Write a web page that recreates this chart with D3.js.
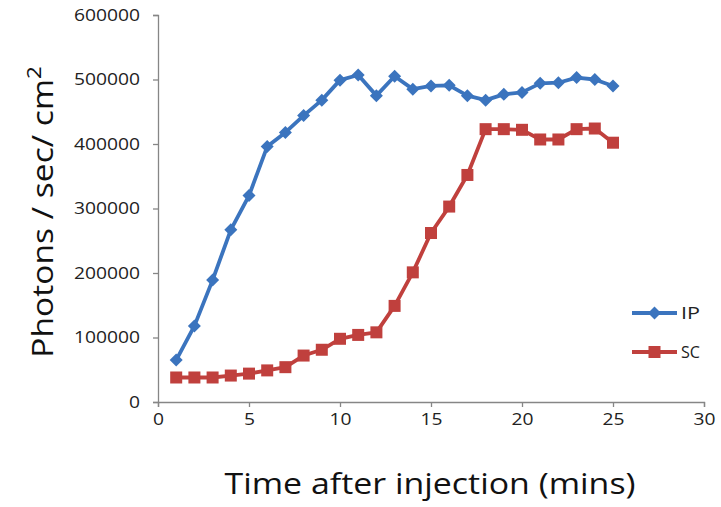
<!DOCTYPE html>
<html>
<head>
<meta charset="utf-8">
<script src="https://cdn.jsdelivr.net/npm/d3@7"></script>
<style>
  html, body { margin: 0; padding: 0; background: #fff; }
  svg { display: block; }
  text { font-family: "Open Sans", "Liberation Sans", sans-serif; }
</style>
</head>
<body>
<svg id="chart" width="721" height="507"></svg>
<script>
// Time points (minutes after injection)
const minutes = [1,2,3,4,5,6,7,8,9,10,11,12,13,14,15,16,17,18,19,20,21,22,23,24,25];

// Intraperitoneal injection signal (photons/sec/cm²)
const ipValues = [65000,118000,189000,267000,320000,396000,418000,444000,468000,499000,
                  507000,475000,505000,485000,490000,491000,475000,468000,477000,480000,
                  494000,495000,503000,500000,490000];

// Subcutaneous injection signal (photons/sec/cm²)
const scValues = [38000,38000,38000,41000,44000,49000,54000,72000,81000,98000,
                  104000,108000,149000,201000,262000,303000,352000,423000,423000,422000,
                  407000,407000,423000,424000,402000];

const xTicks = [0,5,10,15,20,25,30];
const yTicks = [0,100000,200000,300000,400000,500000,600000];

const series = [
  { name: "IP", values: ipValues, color: "#3b74be", marker: "diamond" },
  { name: "SC", values: scValues, color: "#c0403d", marker: "square" }
];

const svg = d3.select("#chart");
const axisColor = "#868686";
const digitWidth = 11;

const x = d3.scaleLinear().domain([0, 30]).range([158, 704]);
const y = d3.scaleLinear().domain([0, 600000]).range([402, 15]);

function styleTickText(sel) {
  sel.attr("fill", "#222")
    .style("font-size", "16.5px")
    .attr("textLength", function () { return this.textContent.length * digitWidth; })
    .attr("lengthAdjust", "spacingAndGlyphs");
}

// Y axis
const yAxis = svg.append("g")
  .attr("transform", `translate(${x(0)},0)`)
  .call(d3.axisLeft(y).tickValues(yTicks).tickSize(5).tickPadding(13).tickFormat(d3.format("d")));
yAxis.select(".domain").attr("stroke", axisColor).attr("stroke-width", 1.3);
yAxis.selectAll(".tick line").attr("stroke", axisColor).attr("stroke-width", 1.3);
yAxis.selectAll(".tick text").call(styleTickText);

// X axis
const xAxis = svg.append("g")
  .attr("transform", `translate(0,${y(0)})`)
  .call(d3.axisBottom(x).tickValues(xTicks).tickSize(5).tickPadding(6));
xAxis.select(".domain").attr("stroke", axisColor).attr("stroke-width", 1.3);
xAxis.selectAll(".tick line").attr("stroke", axisColor).attr("stroke-width", 1.3);
xAxis.selectAll(".tick text").call(styleTickText);

// Axis titles (slightly widened lettering)
svg.append("g")
  .attr("transform", "translate(430,494) scale(1.13,1)")
  .append("text")
  .attr("text-anchor", "middle")
  .attr("fill", "#111")
  .style("font-size", "30px")
  .text("Time after injection (mins)");

const yTitle = svg.append("g")
  .attr("transform", "translate(53,212) rotate(-90) scale(1.12,1)")
  .append("text")
  .attr("text-anchor", "middle")
  .attr("fill", "#111")
  .style("font-size", "30px");
yTitle.append("tspan").text("Photons / sec/ cm");
yTitle.append("tspan").attr("dy", -12).style("font-size", "20px").text("2");

// Lines and markers
const line = d3.line().x((d, i) => x(minutes[i])).y(d => y(d));

function drawMarker(g, type, cx, cy, color) {
  if (type === "diamond") {
    g.append("path")
      .attr("d", `M${cx},${cy - 6.5}L${cx + 6.5},${cy}L${cx},${cy + 6.5}L${cx - 6.5},${cy}Z`)
      .attr("fill", color);
  } else {
    g.append("rect")
      .attr("x", cx - 6).attr("y", cy - 6)
      .attr("width", 12).attr("height", 12)
      .attr("fill", color);
  }
}

series.forEach(s => {
  const g = svg.append("g");
  g.append("path")
    .datum(s.values)
    .attr("d", line)
    .attr("fill", "none")
    .attr("stroke", s.color)
    .attr("stroke-width", 3.8)
    .attr("stroke-linejoin", "round");
  s.values.forEach((v, i) => drawMarker(g, s.marker, x(minutes[i]), y(v), s.color));
});

// Legend
const legend = svg.append("g");
series.forEach((s, i) => {
  const ly = 313 + i * 39;
  legend.append("line")
    .attr("x1", 632).attr("x2", 677).attr("y1", ly).attr("y2", ly)
    .attr("stroke", s.color).attr("stroke-width", 3.8);
  drawMarker(legend, s.marker, 654.5, ly, s.color);
  legend.append("text")
    .attr("x", 681).attr("y", ly + 6)
    .attr("fill", "#222")
    .style("font-size", "16.5px")
    .attr("textLength", s.name.length * 9.5)
    .attr("lengthAdjust", "spacingAndGlyphs")
    .text(s.name);
});
</script>
</body>
</html>
